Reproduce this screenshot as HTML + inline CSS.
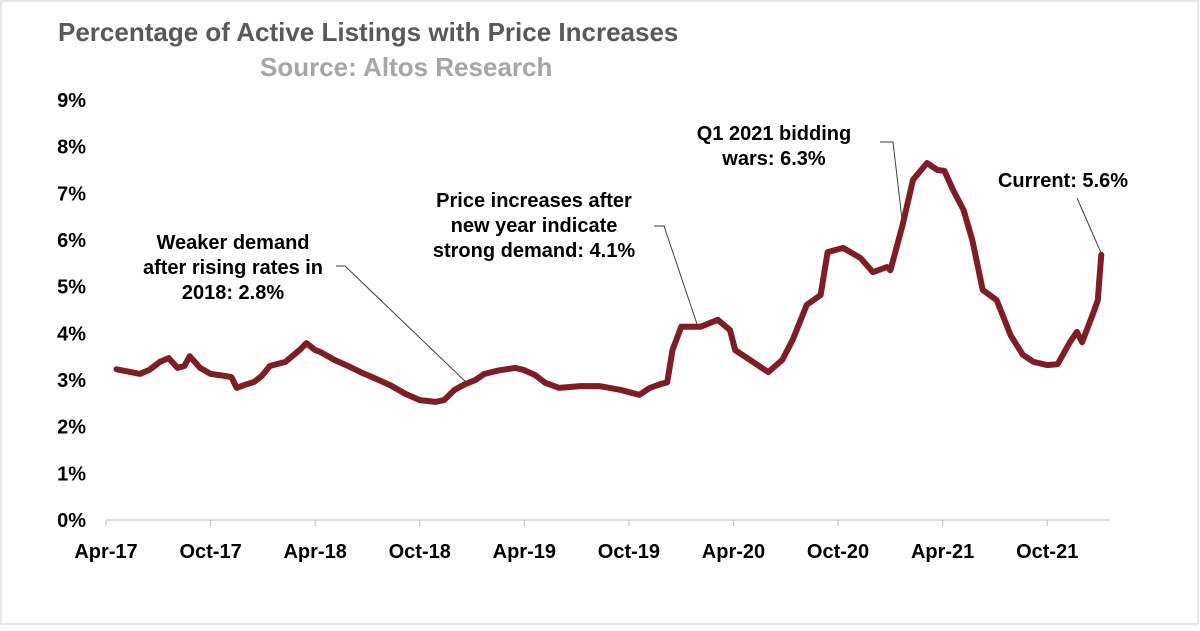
<!DOCTYPE html>
<html><head><meta charset="utf-8"><style>
body{margin:0;background:#fff;}
svg text{font-family:"Liberation Sans",sans-serif;font-weight:bold;}
</style></head><body>
<svg id="c" width="1200" height="626">
<rect x="1" y="1" width="1197" height="623" fill="#fff" stroke="#d0d0d0"/>
<text x="58" y="41" font-size="26" fill="#595959">Percentage of Active Listings with Price Increases</text>
<text x="260" y="76" font-size="26" fill="#a6a6a6">Source: Altos Research</text>
<g id="ax"></g>
<g id="ann" font-size="20" fill="#000">
<text x="233" y="249" text-anchor="middle"><tspan x="233">Weaker demand</tspan><tspan x="233" dy="25">after rising rates in</tspan><tspan x="233" dy="25">2018: 2.8%</tspan></text>
<text x="534" y="207" text-anchor="middle"><tspan x="534">Price increases after</tspan><tspan x="534" dy="25">new year indicate</tspan><tspan x="534" dy="25">strong demand: 4.1%</tspan></text>
<text x="774" y="140" text-anchor="middle"><tspan x="774">Q1 2021 bidding</tspan><tspan x="774" dy="25">wars: 6.3%</tspan></text>
<text x="1063" y="187" text-anchor="middle">Current: 5.6%</text>
<polyline points="336,266 345,266 468,384" fill="none" stroke="#404040" stroke-width="1"/>
<polyline points="654,226 664,226 698,327" fill="none" stroke="#404040" stroke-width="1"/>
<polyline points="880,142 893,142 903,228" fill="none" stroke="#404040" stroke-width="1"/>
<polyline points="1077,198 1102,255" fill="none" stroke="#404040" stroke-width="1"/>
</g>
<g id="plot"></g>
</svg>
<script>
const months=[0.6,1.95,2.5,3.1,3.6,4.1,4.5,4.8,5.4,6.0,6.8,7.2,7.5,8.0,8.5,8.95,9.4,10.3,11.1,11.5,12.0,12.3,13.1,14.0,14.6,15.4,16.3,17.2,18.0,18.9,19.4,20.0,20.6,21.2,21.7,22.6,23.5,24.0,24.6,25.2,26.0,27.2,28.3,29.5,30.6,31.2,31.8,32.2,32.5,33.0,34.1,35.1,35.8,36.1,37.1,38.0,38.8,39.4,40.2,41.0,41.4,42.3,43.3,44.0,44.8,45.0,45.7,46.3,47.1,47.7,48.1,48.6,49.2,49.7,50.3,51.1,51.9,52.6,53.2,54.0,54.6,55.3,55.7,56.0,56.6,56.9,57.0,57.1];
const values=[3.23,3.13,3.22,3.39,3.47,3.26,3.30,3.51,3.26,3.13,3.09,3.06,2.83,2.90,2.96,3.09,3.30,3.39,3.64,3.79,3.64,3.60,3.43,3.28,3.17,3.04,2.89,2.70,2.57,2.53,2.57,2.79,2.91,3.00,3.13,3.21,3.26,3.21,3.11,2.94,2.83,2.87,2.87,2.79,2.68,2.83,2.91,2.95,3.64,4.14,4.14,4.29,4.07,3.64,3.39,3.17,3.43,3.86,4.61,4.82,5.74,5.83,5.61,5.31,5.42,5.35,6.32,7.29,7.65,7.50,7.48,7.07,6.64,6.00,4.93,4.71,3.96,3.54,3.39,3.32,3.34,3.81,4.03,3.81,4.39,4.71,5.20,5.68];
const yTicks=[0,1,2,3,4,5,6,7,8,9];
const xTickLabels=["Apr-17","Oct-17","Apr-18","Oct-18","Apr-19","Oct-19","Apr-20","Oct-20","Apr-21","Oct-21"];
const xTickMonths=[0,6,12,18,24,30,36,42,48,54];
const X=m=>106+m*17.43, Y=v=>520-v*46.67;
const ns="http://www.w3.org/2000/svg", ax=document.getElementById('ax'), plot=document.getElementById('plot');
function mk(tag,attrs,parent,txt){const e=document.createElementNS(ns,tag);for(const k in attrs)e.setAttribute(k,attrs[k]);if(txt!=null)e.textContent=txt;parent.appendChild(e);return e;}
yTicks.forEach(t=>{const e=mk('text',{x:86,y:Y(t)+7,'font-size':20,'text-anchor':'end',fill:'#000'},ax,t+'%');

});
const xl=mk('line',{x1:106,x2:1110,y1:520,y2:520,stroke:'#bfbfbf','stroke-width':1},ax);


xTickMonths.forEach((m,i)=>{const t=mk('line',{x1:X(m),x2:X(m),y1:520,y2:526,stroke:'#bfbfbf'},ax);


const e=mk('text',{x:X(m),y:558,'font-size':20,'text-anchor':'middle',fill:'#000'},ax,xTickLabels[i]);

});
const pts=months.map((m,i)=>X(m).toFixed(1)+','+Y(values[i]).toFixed(1)).join(' ');
const pl=mk('polyline',{points:pts,fill:'none',stroke:'#7f1d27','stroke-width':6,'stroke-linejoin':'round','stroke-linecap':'round'},plot);


</script>
</body></html>
